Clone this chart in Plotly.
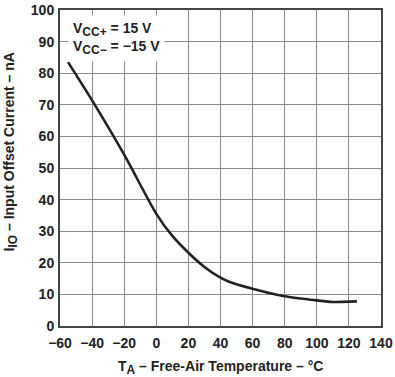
import plotly.graph_objects as go

temp_c = [-55, -40, -20, 0, 10, 20, 30, 40, 45, 60, 80, 100, 110, 125]
offset_na = [83.5, 71.4, 54.2, 35.5, 28.5, 23.2, 18.7, 15.3, 14.1, 11.8, 9.4, 8.1, 7.6, 7.8]

x_ticks = [-60, -40, -20, 0, 20, 40, 60, 80, 100, 120, 140]
x_ticktext = ["\u221260", "\u221240", "\u221220", "0", "20", "40", "60", "80", "100", "120", "140"]
y_ticks = [0, 10, 20, 30, 40, 50, 60, 70, 80, 90, 100]

FONT = "Liberation Sans, Arial, sans-serif"

fig = go.Figure()
fig.add_trace(go.Scatter(x=temp_c, y=offset_na, mode="lines",
                         line=dict(color="#222222", width=2.6, shape="spline", smoothing=0.6),
                         showlegend=False, hoverinfo="skip"))

axis_common = dict(showgrid=True, gridcolor="#8a8a8a", gridwidth=1, zeroline=False,
                   showline=True, linecolor="#444444", linewidth=2, mirror=True,
                   ticks="", ticklabeloverflow="allow",
                   tickfont=dict(family=FONT, size=14, color="#222222", weight="bold"))

fig.update_xaxes(range=[-60, 140], tickvals=x_ticks, ticktext=x_ticktext,
                 ticklabelstandoff=3, **axis_common)
fig.update_yaxes(range=[0, 100], tickvals=y_ticks, ticklabelstandoff=1, **axis_common)

fig.add_annotation(x=0.025, y=0.985, xref="paper", yref="paper", xanchor="left", yanchor="top",
                   text=("V<sub><span style='font-size:12px'>CC+</span></sub> = 15 V<br>"
                         "V<sub><span style='font-size:12px'>CC\u2212</span></sub> = \u221215 V"),
                   showarrow=False, align="left", bgcolor="white", borderpad=4,
                   font=dict(family=FONT, size=14, color="#222222", weight="bold"))

fig.add_annotation(x=0.5, y=-0.13, xref="paper", yref="paper", xanchor="center", yanchor="middle",
                   text="T<sub><span style='font-size:12px'>A</span></sub> \u2013 Free-Air Temperature \u2013 \u00b0C",
                   showarrow=False, font=dict(family=FONT, size=14, color="#222222", weight="bold"))

fig.add_annotation(x=-0.155, y=0.55, xref="paper", yref="paper", xanchor="center", yanchor="middle",
                   text="I<sub><span style='font-size:12px'>IO</span></sub> \u2013 Input Offset Current \u2013 nA",
                   textangle=-90,
                   showarrow=False, font=dict(family=FONT, size=14, color="#222222", weight="bold"))

fig.update_layout(width=395, height=377, margin=dict(l=60, r=10, t=2, b=51),
                  plot_bgcolor="white", paper_bgcolor="white")

post = ("document.body.style.overflow='hidden';"
        "var gd=document.querySelector('.plotly-graph-div');"
        "gd.style.position='absolute';gd.style.left='0px';gd.style.top='0px';")

fig.write_html("out.html", config={"displayModeBar": False}, post_script=post)
